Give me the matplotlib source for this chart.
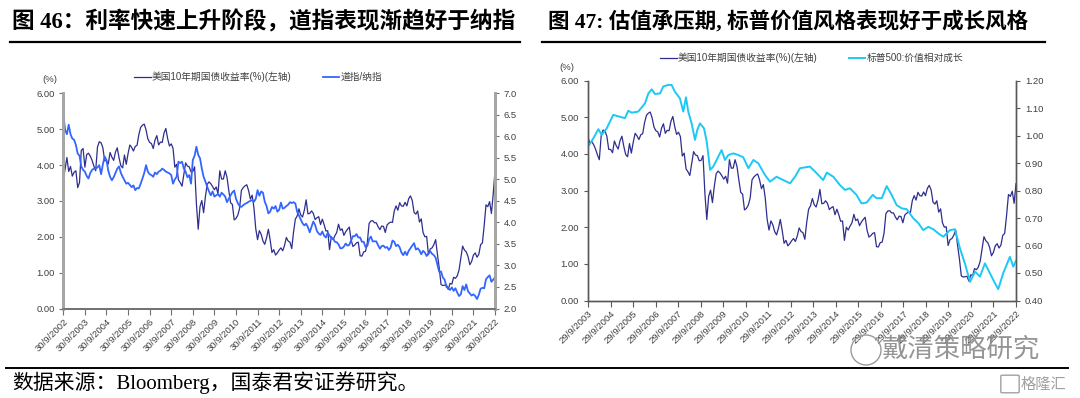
import numpy as np
import matplotlib
matplotlib.use("Agg")
import matplotlib.pyplot as plt
from matplotlib.lines import Line2D
from matplotlib.patches import Ellipse, FancyBboxPatch

plt.rcParams['font.family'] = ['Liberation Sans', 'Noto Sans CJK SC', 'DejaVu Sans']

# ---------------- data ----------------
# US 10Y treasury yield (%), monthly, Sep 2002 .. Sep 2022
ust10y = [
    3.60, 3.89, 4.21, 3.82,
    3.96, 3.69, 3.80, 3.84, 3.37, 3.51, 4.41, 4.46, 3.94, 4.29, 4.33, 4.25,
    4.13, 3.97, 3.84, 4.50, 4.65, 4.62, 4.48, 4.12, 4.12, 4.03, 4.35, 4.22,
    4.13, 4.36, 4.48, 4.20, 3.98, 3.92, 4.28, 4.02, 4.32, 4.56, 4.49, 4.39,
    4.52, 4.55, 4.85, 5.05, 5.11, 5.14, 4.98, 4.73, 4.63, 4.60, 4.46, 4.70,
    4.82, 4.56, 4.64, 4.63, 4.89, 5.02, 4.74, 4.53, 4.59, 4.47, 3.94, 4.02,
    3.59, 3.51, 3.41, 3.73, 4.06, 3.97, 3.95, 3.81, 3.82, 3.95, 2.92, 2.21,
    2.84, 3.01, 2.67, 3.12, 3.46, 3.53, 3.48, 3.40, 3.31, 3.39, 3.20, 3.84,
    3.61, 3.61, 3.84, 3.66, 3.29, 2.95, 2.90, 2.47, 2.51, 2.60, 2.79, 3.29,
    3.37, 3.42, 3.45, 3.29, 3.05, 3.16, 2.80, 2.22, 1.92, 2.17, 2.07, 1.88,
    1.79, 1.97, 2.21, 1.91, 1.56, 1.64, 1.49, 1.55, 1.63, 1.69, 1.61, 1.76,
    1.98, 1.88, 1.85, 1.67, 2.13, 2.49, 2.58, 2.78, 2.61, 2.55, 2.74, 3.03,
    2.64, 2.65, 2.72, 2.65, 2.48, 2.53, 2.56, 2.34, 2.49, 2.34, 2.16, 2.17,
    1.64, 2.00, 1.92, 2.03, 2.12, 2.35, 2.18, 2.22, 2.04, 2.14, 2.21, 2.27,
    1.92, 1.73, 1.77, 1.83, 1.85, 1.47, 1.46, 1.58, 1.59, 1.83, 2.37, 2.44,
    2.45, 2.39, 2.39, 2.28, 2.20, 2.30, 2.29, 2.12, 2.33, 2.38, 2.41, 2.40,
    2.72, 2.86, 2.74, 2.95, 2.86, 2.85, 2.96, 2.86, 3.06, 3.14, 3.01, 2.68,
    2.63, 2.72, 2.41, 2.50, 2.12, 2.00, 2.01, 1.50, 1.66, 1.69, 1.78, 1.92,
    1.51, 1.13, 0.67, 0.64, 0.65, 0.66, 0.53, 0.70, 0.68, 0.87, 0.84, 0.91,
    1.07, 1.40, 1.74, 1.63, 1.58, 1.45, 1.22, 1.31, 1.49, 1.55, 1.43, 1.51,
    1.78, 1.83, 2.32, 2.89, 2.84, 2.98, 2.65, 3.19, 3.83,
]

# Dow / Nasdaq ratio, monthly, Sep 2002 .. Sep 2022 (right axis)
dow_nasdaq = [
    6.52, 6.15, 6.05, 6.27,
    6.05, 5.95, 5.92, 5.80, 5.60, 5.55, 5.30, 5.22, 5.18, 5.08, 5.02, 5.15,
    5.22, 5.25, 5.25, 5.28, 5.33, 5.12, 5.35, 5.53, 5.45, 5.20, 5.06, 4.98,
    5.05, 5.15, 5.25, 5.30, 5.15, 5.06, 4.98, 4.90, 4.92, 4.87, 4.82, 4.86,
    4.75, 4.80, 4.79, 4.90, 5.02, 5.15, 5.33, 5.18, 5.12, 5.10, 5.06, 5.16,
    5.12, 5.18, 5.20, 5.25, 5.22, 5.18, 5.16, 5.14, 5.10, 4.90, 5.00, 5.06,
    5.41, 5.38, 5.41, 5.25, 5.18, 5.05, 5.10, 4.90, 5.45, 5.55, 5.76, 5.57,
    5.49, 5.25, 5.06, 4.95, 4.83, 4.72, 4.63, 4.72, 4.60, 4.63, 4.66, 4.60,
    4.69, 4.65, 4.60, 4.47, 4.55, 4.63, 4.70, 4.74, 4.55, 4.45, 4.38, 4.36,
    4.40, 4.43, 4.45, 4.48, 4.50, 4.52, 4.48, 4.55, 4.75, 4.62, 4.72, 4.69,
    4.48, 4.38, 4.21, 4.25, 4.36, 4.32, 4.38, 4.25, 4.29, 4.46, 4.32, 4.34,
    4.38, 4.41, 4.47, 4.45, 4.47, 4.44, 4.25, 4.16, 4.07, 3.98, 3.93, 3.97,
    3.89, 3.77, 3.90, 4.02, 3.94, 3.80, 3.74, 3.71, 3.79, 3.69, 3.65, 3.76,
    3.70, 3.63, 3.63, 3.55, 3.54, 3.49, 3.40, 3.40, 3.44, 3.51, 3.46, 3.48,
    3.58, 3.68, 3.68, 3.73, 3.65, 3.65, 3.55, 3.55, 3.43, 3.45, 3.61, 3.67,
    3.56, 3.56, 3.56, 3.47, 3.39, 3.45, 3.46, 3.41, 3.43, 3.36, 3.42, 3.58,
    3.55, 3.45, 3.48, 3.42, 3.30, 3.24, 3.32, 3.24, 3.34, 3.40, 3.46, 3.52,
    3.37, 3.40, 3.35, 3.26, 3.34, 3.30, 3.22, 3.28, 3.33, 3.27, 3.24, 3.18,
    3.02, 2.85, 2.86, 2.72, 2.67, 2.50, 2.47, 2.43, 2.49, 2.41, 2.47, 2.37,
    2.29, 2.33, 2.52, 2.43, 2.56, 2.40, 2.35, 2.30, 2.33, 2.29, 2.22, 2.32,
    2.46, 2.48, 2.47, 2.68, 2.73, 2.77, 2.62, 2.67, 2.72,
]

left_xlabels = ['30/9/%d' % y for y in range(2002, 2023)]
right_xlabels = ['29/9/%d' % y for y in range(2003, 2023)]

# right chart: yield from early Sep 2003 to Aug 2022
ust10y_r = [4.45] + ust10y[13:240]

# S&P500 value / growth (years after 29/9/2003, ratio)
sp_t = [0.0, 0.24, 0.46, 0.61, 0.83, 1.12, 1.42, 1.64, 1.79, 1.94, 2.23, 2.53, 2.68, 2.83,
        2.97, 3.20, 3.34, 3.56, 3.71, 3.86, 4.08, 4.23, 4.35, 4.45, 4.60, 4.75, 4.85, 4.97,
        5.15, 5.27, 5.42, 5.56, 5.71, 5.93, 6.08, 6.23, 6.45, 6.67, 6.89, 7.12, 7.34, 7.56,
        7.86, 8.08, 8.37, 8.67, 8.97, 9.19, 9.41, 9.85, 10.15, 10.44, 10.60, 10.89, 11.18,
        11.41, 11.63, 11.92, 12.14, 12.37, 12.64, 12.81, 13.04, 13.26, 13.48, 13.70, 13.93,
        14.15, 14.44, 14.67, 14.88, 15.11, 15.33, 15.55, 15.77, 16.07, 16.29, 16.51, 16.73,
        16.96, 17.18, 17.40, 17.62, 17.77, 17.99, 18.21, 18.43, 18.73, 18.88, 19.0]
sp_vg = [0.959, 0.990, 1.023, 1.002, 1.026, 1.075, 1.068, 1.063, 1.090, 1.083, 1.087, 1.117,
         1.153, 1.168, 1.151, 1.153, 1.178, 1.184, 1.184, 1.159, 1.135, 1.087, 1.139, 1.087,
         1.044, 0.984, 1.020, 1.044, 1.026, 0.978, 0.875, 0.887, 0.911, 0.947, 0.911, 0.929,
         0.935, 0.929, 0.921, 0.881, 0.911, 0.899, 0.856, 0.832, 0.850, 0.838, 0.826, 0.850,
         0.881, 0.887, 0.863, 0.838, 0.865, 0.850, 0.820, 0.802, 0.808, 0.784, 0.753, 0.756,
         0.784, 0.772, 0.772, 0.816, 0.784, 0.747, 0.735, 0.732, 0.699, 0.681, 0.656, 0.668,
         0.659, 0.644, 0.632, 0.656, 0.659, 0.590, 0.535, 0.468, 0.505, 0.487, 0.535, 0.511,
         0.475, 0.441, 0.499, 0.559, 0.523, 0.545]

NAVY = '#2E2E8F'
BLUE = '#3366FF'
CYAN = '#1EC8F5'
TXT = '#404040'

W, H = 1080, 398
fig = plt.figure(figsize=(W / 100, H / 100), dpi=100)


def fx(px):
    return px / W


def fy(py):
    return 1 - py / H


# ---------------- left chart ----------------
axL = fig.add_axes([fx(63.3), fy(308.5), fx(495 - 63.3), fy(93.3) - fy(308.5)])
axL2 = axL.twinx()
xl = np.arange(len(ust10y)) / 12.0
axL.plot(xl, ust10y, color=NAVY, lw=0.9)
axL2.plot(xl, dow_nasdaq, color=BLUE, lw=1.3)
axL.set_xlim(0, 20)
axL.set_ylim(0, 6)
axL2.set_ylim(2, 7)
axL.set_yticks(np.arange(0, 6.01, 1))
axL.set_yticklabels(['%.2f' % v for v in np.arange(0, 6.01, 1)])
axL2.set_yticks(np.arange(2, 7.01, 0.5))
axL2.set_yticklabels(['%.1f' % v for v in np.arange(2, 7.01, 0.5)])
axL.set_xticks(range(21))
axL.set_xticklabels(left_xlabels, rotation=45, ha='right', va='top', rotation_mode='anchor')

for a in (axL, axL2):
    a.spines['top'].set_visible(False)
    a.spines['left'].set_color('#A6A6A6')
    a.spines['right'].set_color('#A6A6A6')
    a.spines['left'].set_linewidth(2)
    a.spines['right'].set_linewidth(2)
    a.spines['bottom'].set_color('#707070')
    a.spines['bottom'].set_linewidth(1.2)
    a.tick_params(axis='both', labelsize=6.8, colors='#707070', labelcolor=TXT, length=3, width=0.8)
    a.patch.set_visible(False)
axL.tick_params(axis='x', length=4, pad=2)
axL.tick_params(axis='y', pad=3)
axL2.tick_params(axis='y', pad=3)
fig.text(fx(50), fy(79), '(%)', fontsize=6.8, color=TXT, ha='center', va='center')

hL = [Line2D([], [], color=NAVY, lw=0.9), Line2D([], [], color=BLUE, lw=1.3)]
fig.legend(hL, ['美国10年期国债收益率(%)(左轴)', '道指/纳指'], loc='center left',
           bbox_to_anchor=(fx(134), fy(77)), ncol=2, frameon=False, fontsize=7,
           handlelength=1.7, handletextpad=0.15, columnspacing=3.2, borderpad=0,
           borderaxespad=0, labelcolor=TXT)

# ---------------- right chart ----------------
axR = fig.add_axes([fx(588), fy(300.5), fx(1016 - 588), fy(80.5) - fy(300.5)])
axR2 = axR.twinx()
xr = np.linspace(0, 19, len(ust10y_r))
axR.plot(xr, ust10y_r, color=NAVY, lw=0.9)
axR2.plot(sp_t, sp_vg, color=CYAN, lw=1.4)
axR.set_xlim(0, 19)
axR.set_ylim(0, 6)
axR2.set_ylim(0.4, 1.2)
axR.set_yticks(np.arange(0, 6.01, 1))
axR.set_yticklabels(['%.2f' % v for v in np.arange(0, 6.01, 1)])
axR2.set_yticks(np.arange(0.4, 1.201, 0.1))
axR2.set_yticklabels(['%.2f' % v for v in np.arange(0.4, 1.201, 0.1)])
axR.set_xticks(range(20))
axR.set_xticklabels(right_xlabels, rotation=45, ha='right', va='top', rotation_mode='anchor')
for a in (axR, axR2):
    a.spines['top'].set_visible(False)
    for s in ('left', 'right', 'bottom'):
        a.spines[s].set_color('#595959')
        a.spines[s].set_linewidth(1.0)
    a.tick_params(axis='both', labelsize=6.8, colors='#595959', labelcolor=TXT, length=3, width=0.8)
    a.patch.set_visible(False)
axR.tick_params(axis='x', length=4, pad=2)
fig.text(fx(567), fy(67), '(%)', fontsize=6.8, color=TXT, ha='center', va='center')

hR = [Line2D([], [], color=NAVY, lw=0.9), Line2D([], [], color=CYAN, lw=1.4)]
fig.legend(hR, ['美国10年期国债收益率(%)(左轴)', '标普500:价值相对成长'], loc='center left',
           bbox_to_anchor=(fx(660), fy(58)), ncol=2, frameon=False, fontsize=7,
           handlelength=1.7, handletextpad=0.15, columnspacing=3.2, borderpad=0,
           borderaxespad=0, labelcolor=TXT)

# ---------------- titles, rules, footer ----------------
title_fam = ['Liberation Serif', 'Noto Sans CJK SC']
fig.text(fx(12), fy(22), '图 46：利率快速上升阶段，道指表现渐趋好于纳指', fontsize=16.3,
         fontweight='bold', family=title_fam, ha='left', va='center', color='black')
fig.text(fx(548), fy(22), '图 47: 估值承压期, 标普价值风格表现好于成长风格', fontsize=15.5,
         fontweight='bold', family=title_fam, ha='left', va='center', color='black')
fig.add_artist(Line2D([fx(10), fx(520)], [fy(42), fy(42)], color='black', lw=1.6))
fig.add_artist(Line2D([fx(542), fx(1045)], [fy(42), fy(42)], color='black', lw=1.6))
fig.add_artist(Line2D([fx(6), fx(1068)], [fy(367.5), fy(367.5)], color='black', lw=1.4))

fig.text(fx(12), fy(383), '数据来源：Bloomberg，国泰君安证券研究。', fontsize=15,
         family=title_fam, ha='left', va='center', color='black')

# watermark
fig.add_artist(Ellipse((fx(866), fy(350)), fx(30), 30 / H, fill=False, ec='#9a9a9a', lw=1.0))
fig.text(fx(882), fy(350), '戴清策略研究', fontsize=19, family=['Noto Sans CJK SC'],
         color='#8a8a8a', ha='left', va='center', alpha=0.9)
fig.add_artist(FancyBboxPatch((fx(1003), fy(392)), fx(14), 16 / H,
                              boxstyle='round,pad=0.002', fill=False, ec='#a0a0a0', lw=1.0))
fig.text(fx(1021), fy(384), '格隆汇', fontsize=11, family=['Noto Sans CJK SC'],
         color='#a0a0a0', ha='left', va='center')

fig.savefig('out.png', dpi=100)
